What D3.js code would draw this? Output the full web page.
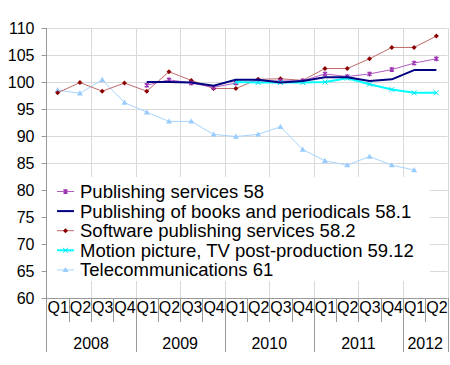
<!DOCTYPE html>
<html><head><meta charset="utf-8">
<script src="https://cdn.jsdelivr.net/npm/d3@7"></script>
<style>body{margin:0;background:#fff}svg{display:block;font-family:"Liberation Sans",Arial,sans-serif}</style>
</head><body><svg id="c" width="450" height="365"></svg>
<script>
const quarters = ["Q1","Q2","Q3","Q4","Q1","Q2","Q3","Q4","Q1","Q2","Q3","Q4","Q1","Q2","Q3","Q4","Q1","Q2"];
const years = ["2008","2009","2010","2011","2012"];
const yearSpans = [4,4,4,4,2];
const yTicks = [60,65,70,75,80,85,90,95,100,105,110];
const pubServices = [null,null,null,null,99.4,100.4,99.8,99.0,99.8,100.2,100.2,100.2,101.5,101.0,101.5,102.3,103.5,104.3];
const pubBooks = [null,null,null,null,100.0,100.0,99.9,99.3,100.4,100.4,99.9,100.2,100.9,100.9,100.2,100.5,102.2,102.2];
const software = [98.0,99.9,98.3,99.8,98.3,101.9,100.3,98.8,98.8,100.5,100.6,100.3,102.5,102.5,104.3,106.4,106.4,108.5];
const motion = [null,null,null,null,null,null,null,null,100.0,99.9,99.9,99.9,100.0,100.7,99.6,98.6,98.0,98.0];
const telecom = [98.5,97.9,100.4,96.2,94.4,92.7,92.7,90.3,89.9,90.3,91.7,87.5,85.4,84.6,86.2,84.6,83.7,null];

const series = [
  {name:"Publishing services 58", values:pubServices, line:"#b05cc0", w:1, marker:"star", mc:"#9b30b0"},
  {name:"Publishing of books and periodicals 58.1", values:pubBooks, line:"#000080", w:2, marker:null},
  {name:"Software publishing services 58.2", values:software, line:"#c06a6a", w:1, marker:"diamond", mc:"#8b0000"},
  {name:"Motion picture, TV post-production 59.12", values:motion, line:"#00ffff", w:2, marker:"x", mc:"#00e0f0"},
  {name:"Telecommunications 61", values:telecom, line:"#a8d4ff", w:1, marker:"tri", mc:"#99ccff"}
];

const svg = d3.select("#c");
const L = 46.5, R = 447.5, T = 28, B = 298;
const idx = d3.range(quarters.length);
const x = d3.scaleBand().domain(idx).range([L, R]).padding(0);
const y = d3.scaleLinear().domain([60,110]).range([B, T]);
const bw = x.bandwidth();

svg.append("g").selectAll("line").data(yTicks).join("line")
  .attr("x1", L).attr("x2", R).attr("y1", d=>Math.round(y(d))+0.5).attr("y2", d=>Math.round(y(d))+0.5)
  .attr("stroke", "#d9d9d9");
svg.append("g").selectAll("line").data(d3.range(2, quarters.length+1, 2)).join("line")
  .attr("x1", d=>Math.round(L + d*bw)+0.5).attr("x2", d=>Math.round(L + d*bw)+0.5)
  .attr("y1", T).attr("y2", B).attr("stroke", "#d9d9d9");

const yAxis = d3.axisLeft(y).tickValues(yTicks).tickSize(5).tickPadding(7);
const ga = svg.append("g").attr("transform", `translate(${L},0)`).call(yAxis);
ga.select(".domain").attr("stroke", "#999").attr("d", `M0,${T}V${B+54}`);
ga.selectAll(".tick line").attr("stroke", "#999");
ga.selectAll(".tick text").attr("font-size", 16).attr("fill", "#000").attr("font-family", "Liberation Sans, Arial, sans-serif");

svg.append("line").attr("x1", L).attr("x2", R).attr("y1", B+0.5).attr("y2", B+0.5).attr("stroke", "#999");
svg.append("g").selectAll("line").data(d3.range(1, quarters.length+1)).join("line")
  .attr("x1", d=>Math.round(L + d*bw)+0.5).attr("x2", d=>Math.round(L + d*bw)+0.5)
  .attr("y1", B).attr("y2", B+24).attr("stroke", "#999");
let cum = 0; const yb = [0];
yearSpans.forEach(s=>{cum+=s; yb.push(cum);});
svg.append("g").selectAll("line").data(yb.slice(1)).join("line")
  .attr("x1", d=>Math.round(L + d*bw)+0.5).attr("x2", d=>Math.round(L + d*bw)+0.5)
  .attr("y1", B).attr("y2", B+54).attr("stroke", "#999");
svg.append("g").selectAll("text").data(idx).join("text")
  .attr("x", d=>x(d)+bw/2+0.5).attr("y", B+14.5).attr("text-anchor","middle")
  .attr("font-size", 16).attr("fill","#000").text(d=>quarters[d]);
svg.append("g").selectAll("text").data(years).join("text")
  .attr("x", (d,i)=>L + (yb[i]+yb[i+1])/2*bw).attr("y", B+51).attr("text-anchor","middle")
  .attr("font-size", 16).attr("fill","#000").text(d=>d);

function marker(g, type, color, cx, cy){
  if(type==="diamond"){
    g.append("path").attr("d", `M${cx},${cy-2.5}L${cx+2.5},${cy}L${cx},${cy+2.5}L${cx-2.5},${cy}Z`).attr("fill", color);
  } else if(type==="star"){
    g.append("path").attr("d", `M${cx-2},${cy-2}L${cx+2},${cy+2}M${cx-2},${cy+2}L${cx+2},${cy-2}M${cx},${cy-2.5}V${cy+2.5}`)
      .attr("stroke", color).attr("stroke-width", 1.3);
  } else if(type==="x"){
    g.append("path").attr("d", `M${cx-2.5},${cy-2.5}L${cx+2.5},${cy+2.5}M${cx-2.5},${cy+2.5}L${cx+2.5},${cy-2.5}`)
      .attr("stroke", color).attr("stroke-width", 1);
  } else if(type==="tri"){
    g.append("path").attr("d", `M${cx},${cy-3}L${cx+3},${cy+2.2}L${cx-3},${cy+2.2}Z`).attr("fill", color);
  }
}

const plot = svg.append("g");
const drawOrder = [4,2,0,3,1];
drawOrder.forEach(si=>{
  const s = series[si];
  const line = d3.line().defined(d=>d!=null).x((d,i)=>x(i)+bw/2).y(d=>y(d));
  plot.append("path").datum(s.values).attr("d", line).attr("fill","none")
    .attr("stroke", s.line).attr("stroke-width", s.w).attr("stroke-linejoin","round");
  if(s.marker){
    const mg = plot.append("g");
    s.values.forEach((v,i)=>{ if(v!=null) marker(mg, s.marker, s.mc, x(i)+bw/2, y(v)); });
  }
});

const lg = svg.append("g");
lg.append("rect").attr("x", 47).attr("y", 177).attr("width", 383).attr("height", 104).attr("fill", "#fff");
series.forEach((s,i)=>{
  const cy = 191.5 + i*19.6;
  lg.append("line").attr("x1", 57).attr("x2", 74).attr("y1", cy).attr("y2", cy)
    .attr("stroke", s.line).attr("stroke-width", s.w);
  if(s.marker) marker(lg, s.marker, s.mc, 65.5, cy);
  lg.append("text").attr("x", 80).attr("y", cy+6.5).attr("font-size", 18.5).attr("fill","#000").text(s.name);
});
</script></body></html>
